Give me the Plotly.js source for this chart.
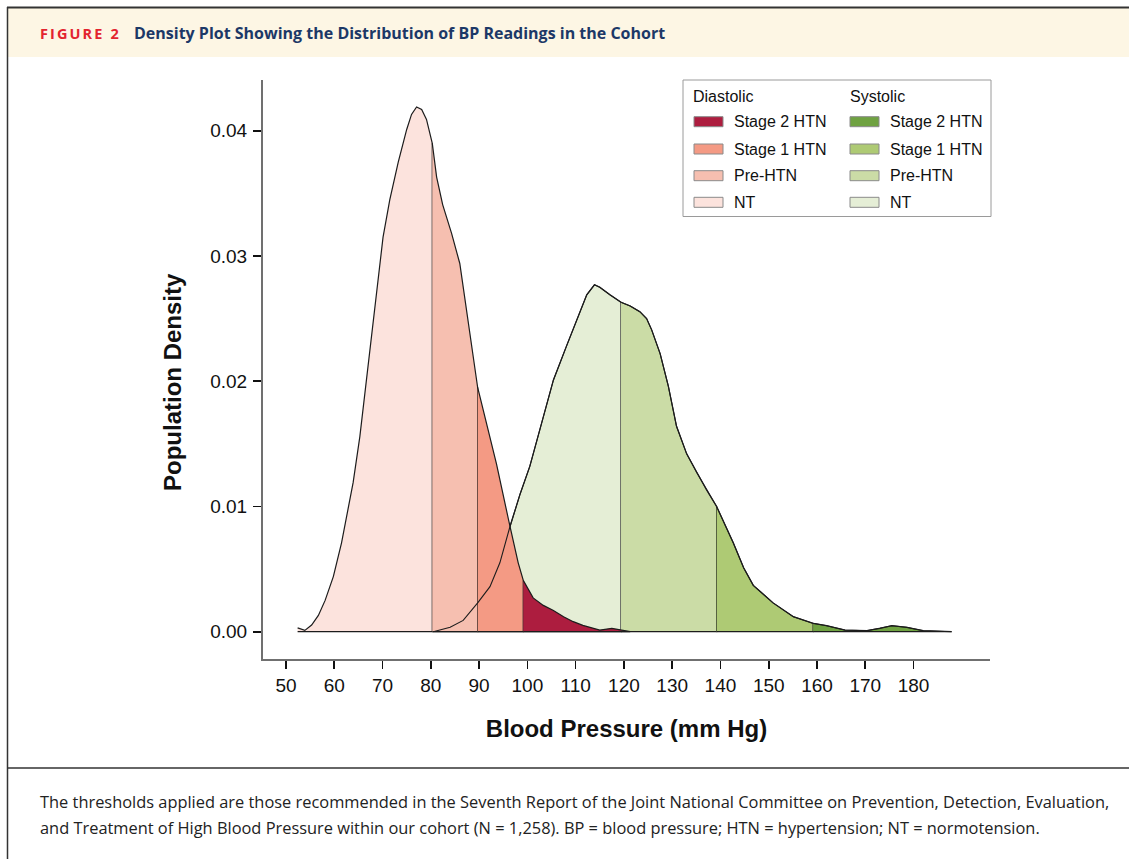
<!DOCTYPE html>
<html><head><meta charset="utf-8">
<script src="https://cdn.plot.ly/plotly-3.0.1.min.js"></script>
<style>html,body{margin:0;padding:0;background:#fff}#chart{width:1129px;height:859px}</style>
</head><body><div id="chart"></div>
<script>
// ---------- data ----------
const diastolicBP = [52.4, 53.9, 55.3, 56.7, 58.1, 59.8, 61.5, 63.9, 65.3, 67.0, 68.4, 70.1, 71.5, 73.25, 75.0, 76.0, 77.05, 78.1, 79.1, 80.3, 81.2, 82.45, 84.3, 86.0, 88.1, 89.7, 91.6, 93.6, 96.4, 98.1, 99.15, 101.2, 103.3, 105.4, 107.5, 109.5, 111.5, 113.65, 115.0, 117.5, 119.9, 121.3];
const diastolicDensity = [0.0003, 0.0001, 0.00053, 0.0013, 0.0025, 0.0044, 0.0071, 0.0119, 0.0156, 0.0212, 0.0260, 0.0315, 0.0345, 0.0375, 0.0401, 0.0413, 0.0419, 0.0417, 0.0409, 0.0390, 0.0363, 0.0341, 0.0318, 0.0294, 0.0236, 0.0195, 0.0166, 0.0134, 0.0084, 0.0055, 0.0041, 0.0027, 0.0021, 0.0017, 0.0012, 0.0008, 0.0005, 0.0003, 0.00013, 0.00027, 0.00013, 0.00003];
const systolicBP = [80.5, 84.0, 86.7, 89.7, 92.25, 94.3, 96.4, 98.5, 100.5, 103.3, 105.4, 108.1, 110.2, 112.3, 113.9, 115.0, 117.1, 119.4, 121.3, 123.3, 124.7, 125.75, 127.5, 129.2, 130.9, 133.0, 135.1, 137.15, 139.2, 142.65, 144.8, 146.8, 150.9, 155.1, 159.2, 162.0, 165.8, 170.3, 173.05, 175.5, 178.6, 182.0, 187.9];
const systolicDensity = [0.0, 0.00035, 0.0009, 0.0023, 0.0036, 0.0055, 0.0084, 0.0110, 0.0132, 0.0172, 0.0201, 0.0228, 0.0249, 0.0269, 0.0277, 0.0275, 0.0269, 0.0263, 0.0260, 0.02555, 0.0250, 0.0241, 0.0222, 0.0196, 0.0164, 0.0142, 0.0127, 0.0113, 0.0100, 0.0071, 0.0051, 0.0037, 0.0023, 0.0012, 0.00067, 0.00048, 0.00013, 0.00008, 0.00027, 0.00048, 0.00035, 0.00008, 0.0];
const diastolicCutoffs = [80.3, 89.7, 99.15];
const systolicCutoffs = [119.4, 139.2, 159.2];
const categories = ['NT', 'Pre-HTN', 'Stage 1 HTN', 'Stage 2 HTN'];
const diastolicColors = ['#fce3dd', '#f6bfb0', '#f49a84', '#ad1d3f'];
const systolicColors = ['#e5eed6', '#cbdca6', '#aeca74', '#6fa241'];
const xTicks = [50, 60, 70, 80, 90, 100, 110, 120, 130, 140, 150, 160, 170, 180];
const yTicks = [0, 0.01, 0.02, 0.03, 0.04];
const yTickLabels = ['0.00', '0.01', '0.02', '0.03', '0.04'];

// ---------- layout constants ----------
const W = 1129, H = 859, L = 263, T = 80, R = 990, B = 659;
const PW = R - L, PH = B - T;
const px = v => (v - L) / PW;
const py = v => (B - v) / PH;
const FONT = 'Liberation Sans, Arial, Helvetica, sans-serif';
const OUTLINE = '#1c1c1c';

function segments(xs, ys, cuts) {
  const bounds = [-Infinity, ...cuts, Infinity];
  const out = [];
  for (let i = 0; i < bounds.length - 1; i++) {
    const lo = bounds[i], hi = bounds[i + 1];
    const sx = [], sy = [];
    xs.forEach((x, j) => { if (x >= lo - 1e-9 && x <= hi + 1e-9) { sx.push(x); sy.push(ys[j]); } });
    sx.push(sx[sx.length - 1], sx[0]); sy.push(0, 0);
    out.push({ x: sx, y: sy });
  }
  return out;
}

const traces = [];
segments(systolicBP, systolicDensity, systolicCutoffs).forEach((s, i) => {
  traces.push({ type: 'scatter', mode: 'lines', x: s.x, y: s.y, fill: 'toself',
    fillcolor: systolicColors[i], line: { color: OUTLINE, width: 1.2 },
    name: 'Systolic ' + categories[i], hoverinfo: 'skip', showlegend: false });
});
segments(diastolicBP, diastolicDensity, diastolicCutoffs).forEach((s, i) => {
  traces.push({ type: 'scatter', mode: 'lines', x: s.x, y: s.y, fill: 'toself',
    fillcolor: diastolicColors[i], line: { color: OUTLINE, width: 1.2 },
    name: 'Diastolic ' + categories[i], hoverinfo: 'skip', showlegend: false });
});
traces.push({ type: 'scatter', mode: 'lines', x: systolicBP, y: systolicDensity,
  line: { color: OUTLINE, width: 1.1 }, hoverinfo: 'skip', showlegend: false, name: 'Systolic' });

// ---------- legend (drawn) ----------
const shapes = [];
const annotations = [];
const leg = { x0: 683, x1: 991, y0: 80, y1: 216.5 };
shapes.push({ type: 'rect', xref: 'paper', yref: 'paper', x0: px(leg.x0), x1: px(leg.x1), y0: py(leg.y1), y1: py(leg.y0),
  line: { color: '#9a9a9a', width: 1 }, fillcolor: 'rgba(255,255,255,0)' });
const rowsY = [121.7, 149, 175.7, 202.3];
const cols = [{ sx: 694, lx: 734, hx: 691, head: 'Diastolic', colors: diastolicColors },
              { sx: 850, lx: 890, hx: 847.5, head: 'Systolic', colors: systolicColors }];
cols.forEach(c => {
  annotations.push({ xref: 'paper', yref: 'paper', x: px(c.hx), y: py(96.5), xanchor: 'left', yanchor: 'middle',
    text: c.head, showarrow: false, font: { family: FONT, size: 16, color: '#111' } });
  [3, 2, 1, 0].forEach((k, r) => {
    const yc = rowsY[r];
    shapes.push({ type: 'rect', xref: 'paper', yref: 'paper', x0: px(c.sx), x1: px(c.sx + 29), y0: py(yc + 5), y1: py(yc - 5),
      fillcolor: c.colors[k], line: { color: '#8a8a8a', width: 1 } });
    annotations.push({ xref: 'paper', yref: 'paper', x: px(c.lx - 2), y: py(yc), xanchor: 'left', yanchor: 'middle',
      text: categories[k], showarrow: false, font: { family: FONT, size: 16, color: '#111' } });
  });
});

// ---------- y-axis title (placed as in the reference, a little below the plot centre) ----------
annotations.push({ xref: 'paper', yref: 'paper', x: px(172), y: py(382), xanchor: 'center', yanchor: 'middle',
  textangle: -90, showarrow: false, text: 'Population Density',
  font: { family: FONT, size: 24, color: '#111', weight: 700 } });

// ---------- figure frame, header and caption ----------
shapes.push({ type: 'rect', xref: 'paper', yref: 'paper', x0: px(8), x1: px(W + 5), y0: py(57), y1: py(8),
  fillcolor: '#fdf6e4', line: { width: 0 }, layer: 'below' });
shapes.push({ type: 'line', xref: 'paper', yref: 'paper', x0: px(7), x1: px(W + 5), y0: py(7.5), y1: py(7.5), line: { color: '#333', width: 2 } });
shapes.push({ type: 'line', xref: 'paper', yref: 'paper', x0: px(7.5), x1: px(7.5), y0: py(7), y1: py(H + 5), line: { color: '#333', width: 1.5 } });
shapes.push({ type: 'line', xref: 'paper', yref: 'paper', x0: px(7), x1: px(W + 5), y0: py(768), y1: py(768), line: { color: '#333', width: 1.5 } });

annotations.push({ xref: 'paper', yref: 'paper', x: px(38), y: py(33), xanchor: 'left', yanchor: 'middle', showarrow: false,
  text: '<span style="letter-spacing:2.1px">FIGURE 2</span>', font: { family: 'Open Sans, sans-serif', size: 14.5, color: '#e3242f', weight: 700 } });
annotations.push({ xref: 'paper', yref: 'paper', x: px(132), y: py(33), xanchor: 'left', yanchor: 'middle', showarrow: false,
  text: 'Density Plot Showing the Distribution of BP Readings in the Cohort', font: { family: 'Open Sans, sans-serif', size: 16, color: '#1c3867', weight: 700 } });
annotations.push({ xref: 'paper', yref: 'paper', x: px(38), y: py(801), xanchor: 'left', yanchor: 'middle', showarrow: false,
  text: 'The thresholds applied are those recommended in the Seventh Report of the Joint National Committee on Prevention, Detection, Evaluation,',
  font: { family: 'Open Sans, sans-serif', size: 16.4, color: '#222' } });
annotations.push({ xref: 'paper', yref: 'paper', x: px(38), y: py(827), xanchor: 'left', yanchor: 'middle', showarrow: false,
  text: 'and Treatment of High Blood Pressure within our cohort (N = 1,258). BP = blood pressure; HTN = hypertension; NT = normotension.',
  font: { family: 'Open Sans, sans-serif', size: 16.4, color: '#222' } });

const layout = {
  width: W, height: H,
  margin: { l: L, r: W - R, t: T, b: H - B, pad: 0 },
  paper_bgcolor: '#fff', plot_bgcolor: '#fff',
  showlegend: false,
  font: { family: FONT, color: '#111' },
  xaxis: {
    range: [45.23, 195.84], tickvals: xTicks, ticktext: xTicks.map(String),
    ticks: 'outside', ticklen: 8, tickwidth: 1.6, tickcolor: '#111',
    showline: true, linecolor: '#707070', linewidth: 2, showgrid: false, zeroline: false,
    tickfont: { family: FONT, size: 19, color: '#111' }, ticklabelstandoff: 0,
    title: { text: 'Blood Pressure (mm Hg)', font: { family: FONT, size: 24, color: '#111', weight: 700 }, standoff: 25 },
    fixedrange: true
  },
  yaxis: {
    range: [-0.00218, 0.04405], tickvals: yTicks, ticktext: yTickLabels,
    ticks: 'outside', ticklen: 8, tickwidth: 1.6, tickcolor: '#111',
    showline: true, linecolor: '#707070', linewidth: 2, showgrid: false, zeroline: false,
    tickfont: { family: FONT, size: 19, color: '#111' }, ticklabelstandoff: 2,
    fixedrange: true
  },
  shapes: shapes,
  annotations: annotations
};

Plotly.newPlot('chart', traces, layout, { staticPlot: true, displayModeBar: false });
</script>
</body></html>
